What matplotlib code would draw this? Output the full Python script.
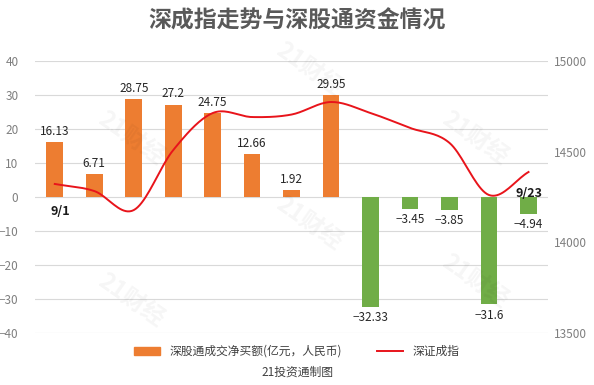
import numpy as np
import matplotlib.pyplot as plt
from matplotlib.patches import Patch
from matplotlib.lines import Line2D

plt.rcParams['font.family'] = ['Noto Sans CJK SC', 'DejaVu Sans']

dates = ['9/1', '9/2', '9/3', '9/4', '9/7', '9/8', '9/9', '9/10', '9/11',
         '9/14', '9/15', '9/16', '9/23']
flow = [16.13, 6.71, 28.75, 27.2, 24.75, 12.66, 1.92, 29.95, -32.33,
        -3.45, -3.85, -31.6, -4.94]
szi = [14322, 14283, 14178, 14509, 14713, 14691, 14705, 14774, 14713,
       14631, 14548, 14261, 14388]


def smooth(xs, ys, n=20):
    # catmull-rom through the points, like excel's smoothed line
    xs = np.asarray(xs, float)
    ys = np.asarray(ys, float)
    px = np.concatenate([[2 * xs[0] - xs[1]], xs, [2 * xs[-1] - xs[-2]]])
    py = np.concatenate([[2 * ys[0] - ys[1]], ys, [2 * ys[-1] - ys[-2]]])
    ox, oy = [], []
    t = np.linspace(0, 1, n, endpoint=False)
    for i in range(1, len(px) - 2):
        for p, o in ((px, ox), (py, oy)):
            p0, p1, p2, p3 = p[i - 1], p[i], p[i + 1], p[i + 2]
            o.extend(0.5 * (2 * p1 + (-p0 + p2) * t
                            + (2 * p0 - 5 * p1 + 4 * p2 - p3) * t ** 2
                            + (-p0 + 3 * p1 - 3 * p2 + p3) * t ** 3))
    ox.append(xs[-1])
    oy.append(ys[-1])
    return np.array(ox), np.array(oy)


fig = plt.figure(figsize=(5.94, 3.85), dpi=100)
ax = fig.add_axes([0.059, 0.135, 0.864, 0.7065])
ax2 = ax.twinx()

x = np.arange(len(dates))
cols = ['#ED7D31' if v >= 0 else '#70AD47' for v in flow]
ax.bar(x, flow, width=0.42, color=cols, zorder=2)
for xi, v in zip(x, flow):
    if v >= 0:
        ax.text(xi, v + 1.2, f'{v:g}', ha='center', va='bottom', fontsize=8.5, color='#262626')
    else:
        ax.text(xi, v - 1.2, f'{v:g}'.replace('-', '−'), ha='center', va='top',
                fontsize=8.5, color='#262626')

ax.set_ylim(-40, 40)
ax.set_yticks(range(-40, 41, 10))
ax.set_xlim(-0.5, len(dates) - 0.5)
ax.set_xticks([])
ax.grid(axis='y', color='#d9d9d9', lw=0.8, zorder=0)
ax.set_axisbelow(True)

sx, sy = smooth(x, szi)
ax2.plot(sx, sy, color='#E8141B', lw=1.4, zorder=3)
ax2.set_ylim(13500, 15000)
ax2.set_yticks([13500, 14000, 14500, 15000])

for a in (ax, ax2):
    for s in a.spines.values():
        s.set_visible(False)
    a.tick_params(length=0, labelsize=8.5, labelcolor='#7f7f7f', pad=4)
ax.tick_params(pad=12)

ax2.annotate(dates[0], (x[0], szi[0]), xytext=(4, -22), textcoords='offset points',
             ha='center', fontsize=9, fontweight='bold', color='#1a1a1a')
ax2.annotate(dates[-1], (x[-1], szi[-1]), xytext=(0, -18), textcoords='offset points',
             ha='center', fontsize=9, fontweight='bold', color='#1a1a1a')

# faint watermarks
for wx, wy in [(0.52, 0.82), (0.22, 0.64), (0.8, 0.64), (0.52, 0.42), (0.8, 0.27), (0.22, 0.22)]:
    fig.text(wx, wy, '21财经', fontsize=17, color='#000000', alpha=0.04,
             rotation=-35, ha='center', va='center', fontweight='bold')

fig.text(0.5, 0.945, '深成指走势与深股通资金情况', ha='center', va='center',
         fontsize=16.5, color='#595959', fontweight='bold')

handles = [Patch(color='#ED7D31'), Line2D([], [], color='#E8141B', lw=1.4)]
fig.legend(handles, ['深股通成交净买额(亿元，人民币)', '深证成指'], loc='center',
           bbox_to_anchor=(0.5, 0.087), ncol=2, frameon=False, fontsize=8.5,
           handlelength=2.2, handleheight=0.6, columnspacing=3, labelcolor='#404040')
fig.text(0.5, 0.033, '21投资通制图', ha='center', va='center', fontsize=8.5, color='#404040')

fig.savefig('out.png', dpi=100)
